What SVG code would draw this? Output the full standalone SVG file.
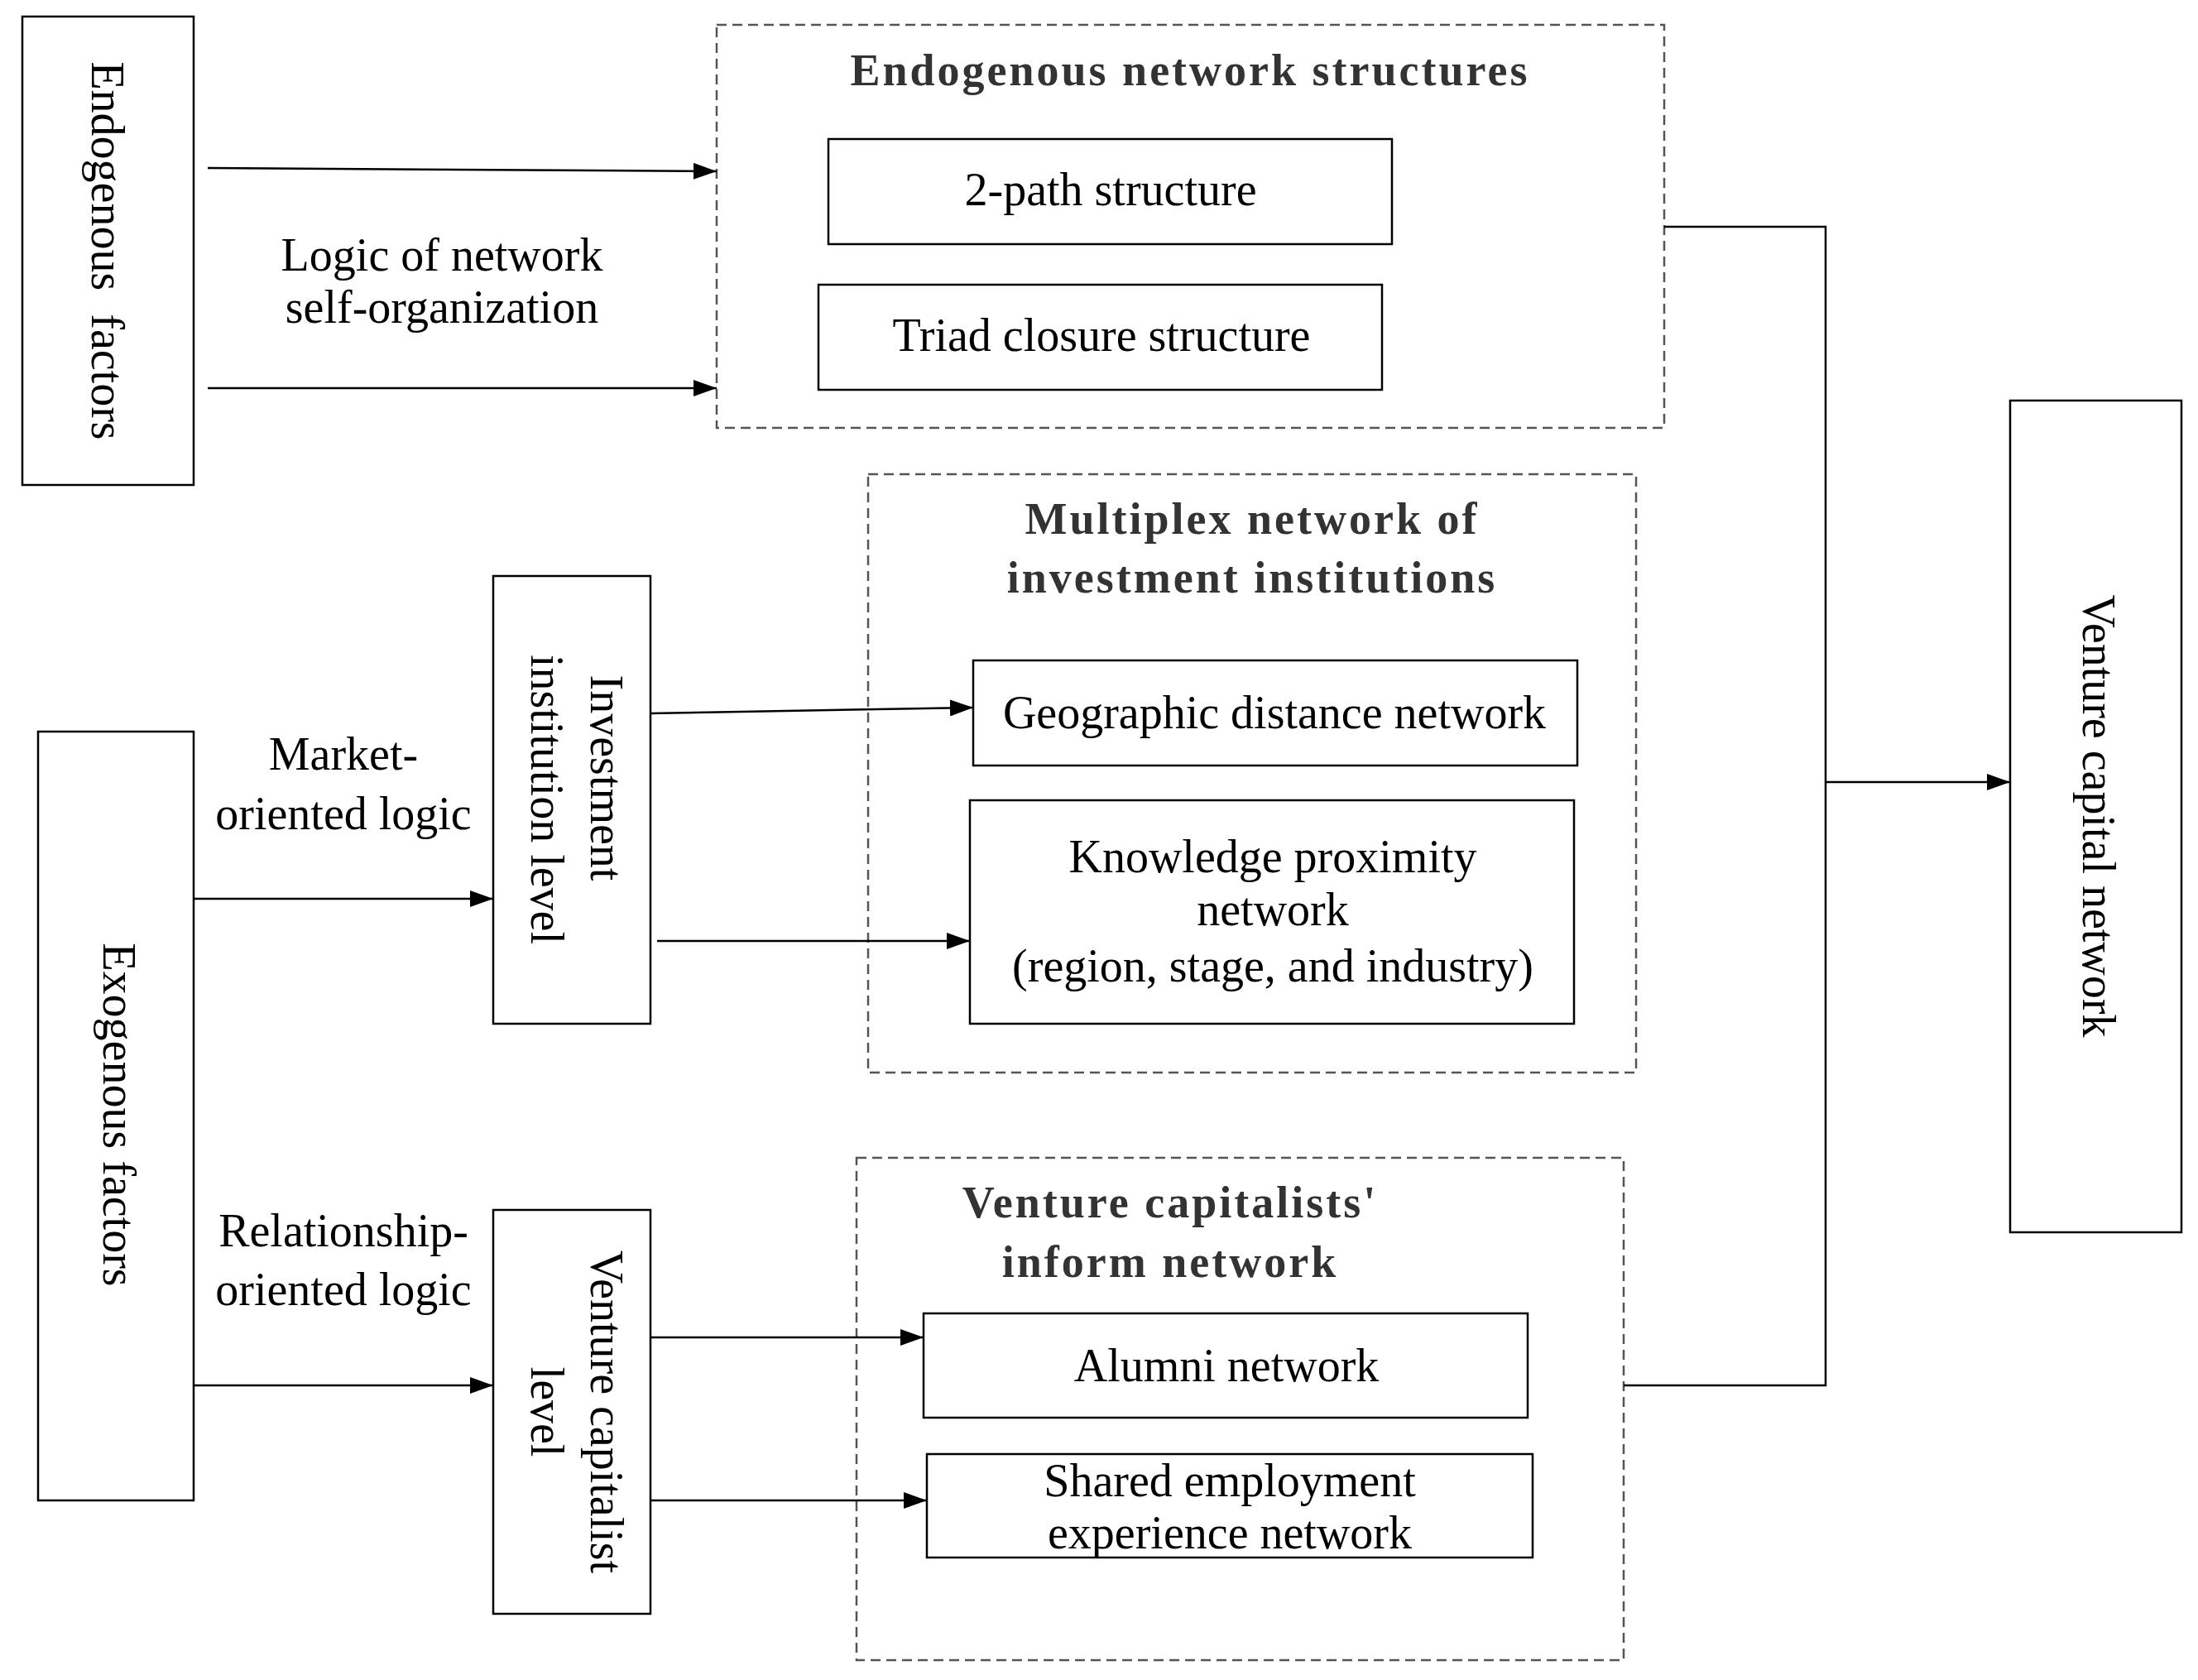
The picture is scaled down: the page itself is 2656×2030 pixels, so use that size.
<svg xmlns="http://www.w3.org/2000/svg" width="2656" height="2030" viewBox="0 0 2656 2030">
<defs>
<marker id="ah" markerWidth="28" markerHeight="20" refX="28" refY="10" orient="auto" markerUnits="userSpaceOnUse" viewBox="0 0 28 20"><path d="M0,0 L28,10 L0,20 z" fill="#000"/></marker>
<style>
.b{fill:#fff;stroke:#000;stroke-width:2.5}
.d{fill:none;stroke:#555;stroke-width:2.5;stroke-dasharray:12,7}
.t{font-family:"Liberation Serif",serif;font-size:56px;fill:#000;text-anchor:middle;dominant-baseline:central}
.h{font-family:"Liberation Serif",serif;font-size:54px;font-weight:bold;fill:#333;text-anchor:middle;dominant-baseline:central;letter-spacing:3px}
.c{fill:none;stroke:#000;stroke-width:2.5}
</style>
</defs>
<rect width="2656" height="2030" fill="#fff"/>
<g id="endo-factors"><rect class="b" x="27" y="20" width="207" height="566"/><text class="t" transform="translate(130,303) rotate(90)" xml:space="preserve">Endogenous  factors</text></g>
<g id="endo-structures"><rect class="d" x="866" y="30" width="1145" height="487"/><text class="h" x="1438" y="85">Endogenous network structures</text></g>
<g id="two-path"><rect class="b" x="1001" y="168" width="681" height="127"/><text class="t" x="1342" y="229">2-path structure</text></g>
<g id="triad"><rect class="b" x="989" y="344" width="681" height="127"/><text class="t" x="1331" y="405">Triad closure structure</text></g>
<g id="multiplex"><rect class="d" x="1049" y="573" width="928" height="723"/><text class="h" x="1513" y="627">Multiplex network of</text><text class="h" x="1513" y="698">investment institutions</text></g>
<g id="geo"><rect class="b" x="1176" y="798" width="730" height="127"/><text class="t" x="1540" y="861">Geographic distance network</text></g>
<g id="knowledge"><rect class="b" x="1172" y="967" width="730" height="270"/><text class="t" x="1538" y="1035">Knowledge proximity</text><text class="t" x="1538" y="1099">network</text><text class="t" x="1538" y="1167">(region, stage, and industry)</text></g>
<g id="inv-level"><rect class="b" x="596" y="696" width="190" height="541"/><text class="t" transform="translate(733,940) rotate(90)">Investment</text><text class="t" transform="translate(661,966) rotate(90)">institution level</text></g>
<g id="exo-factors"><rect class="b" x="46" y="884" width="188" height="929"/><text class="t" transform="translate(144,1347) rotate(90)">Exogenous factors</text></g>
<g id="vc-level"><rect class="b" x="596" y="1462" width="190" height="488"/><text class="t" transform="translate(733,1706) rotate(90)">Venture capitalist</text><text class="t" transform="translate(661,1706) rotate(90)">level</text></g>
<g id="vc-inform"><rect class="d" x="1035" y="1399" width="927" height="607"/><text class="h" x="1414" y="1453">Venture capitalists'</text><text class="h" x="1414" y="1525">inform network</text></g>
<g id="alumni"><rect class="b" x="1116" y="1587" width="730" height="126"/><text class="t" x="1482" y="1650">Alumni network</text></g>
<g id="shared"><rect class="b" x="1120" y="1757" width="732" height="125"/><text class="t" x="1486" y="1789">Shared employment</text><text class="t" x="1486" y="1852">experience network</text></g>
<g id="vcn"><rect class="b" x="2429" y="484" width="207" height="1005"/><text class="t" transform="translate(2536,986) rotate(90)">Venture capital network</text></g>
<g id="labels">
<text class="t" x="534" y="308">Logic of network</text><text class="t" x="534" y="371">self-organization</text>
<text class="t" x="415" y="911">Market-</text><text class="t" x="415" y="983">oriented logic</text>
<text class="t" x="415" y="1487">Relationship-</text><text class="t" x="415" y="1558">oriented logic</text>
</g>
<g id="connectors">
<line class="c" x1="251" y1="203" x2="866" y2="207" marker-end="url(#ah)"/>
<line class="c" x1="251" y1="469" x2="866" y2="469" marker-end="url(#ah)"/>
<line class="c" x1="234" y1="1086" x2="596" y2="1086" marker-end="url(#ah)"/>
<line class="c" x1="786" y1="862" x2="1176" y2="855" marker-end="url(#ah)"/>
<line class="c" x1="794" y1="1137" x2="1172" y2="1137" marker-end="url(#ah)"/>
<line class="c" x1="234" y1="1674" x2="596" y2="1674" marker-end="url(#ah)"/>
<line class="c" x1="786" y1="1616" x2="1116" y2="1616" marker-end="url(#ah)"/>
<line class="c" x1="786" y1="1813" x2="1120" y2="1813" marker-end="url(#ah)"/>
<polyline class="c" points="2011,274 2206,274 2206,1674 1962,1674"/>
<line class="c" x1="2206" y1="945" x2="2429" y2="945" marker-end="url(#ah)"/>
</g>
</svg>
